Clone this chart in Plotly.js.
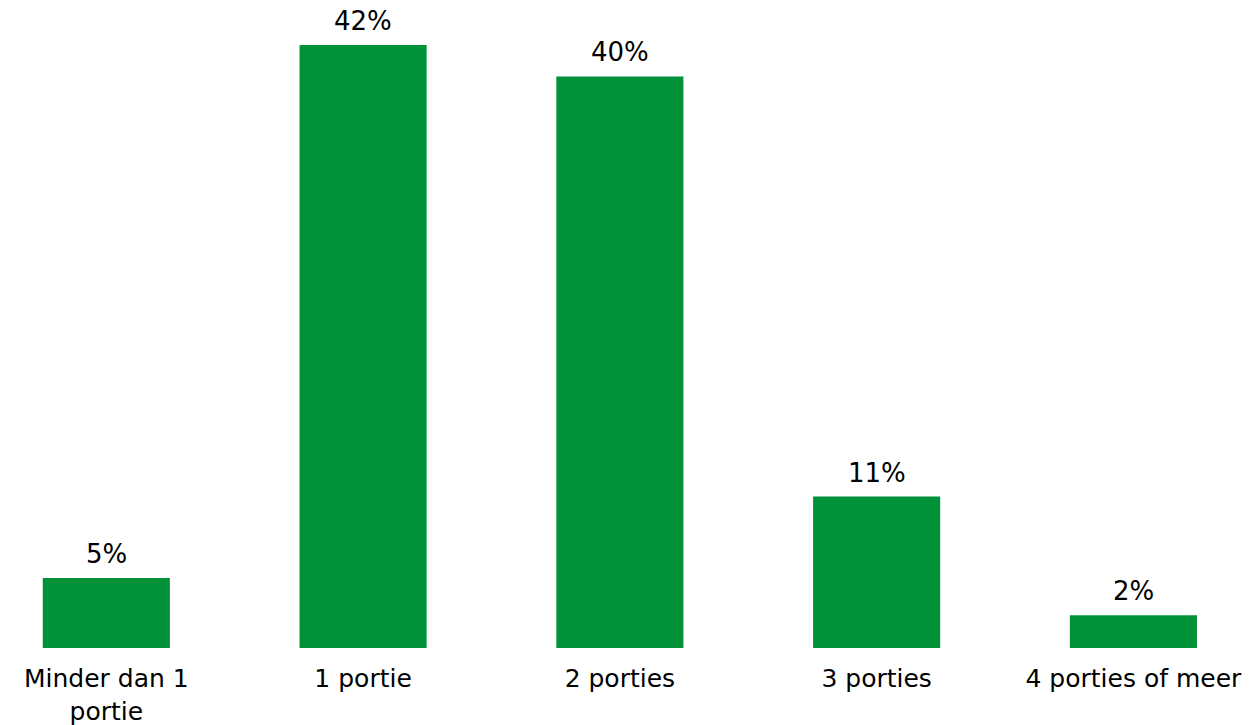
<!DOCTYPE html>
<html>
<head>
<meta charset="utf-8">
<script src="https://cdn.plot.ly/plotly-3.0.1.min.js"></script>
<style>html,body{margin:0;padding:0;background:#fff;}#chart{width:1260px;height:725px;}</style>
</head>
<body>
<div id="chart"></div>
<script>
const categories = ["Minder dan 1<br>portie", "1 portie", "2 porties", "3 porties", "4 porties of meer"];
const values = [4.9, 42.2, 40.0, 10.6, 2.3];
const valueLabels = ["5%", "42%", "40%", "11%", "2%"];

const green = "#009139";
const fontFam = "DejaVu Sans, Verdana, sans-serif";

const trace = {
  type: "bar",
  x: categories,
  y: values,
  marker: {color: green},
  width: 0.495,
  hoverinfo: "skip"
};

const annotations = categories.map((c, i) => ({
  x: c, y: values[i], text: valueLabels[i],
  xref: "x", yref: "y", showarrow: false,
  yanchor: "bottom", yshift: 7,
  font: {family: fontFam, size: 26, color: "#000"}
}));

const layout = {
  width: 1260, height: 725,
  margin: {l: 0, r: 0, t: 10, b: 77},
  paper_bgcolor: "#fff", plot_bgcolor: "#fff",
  showlegend: false,
  xaxis: {
    type: "category",
    range: [-0.414, 4.493],
    showgrid: false, zeroline: false, showline: false,
    ticks: "", ticklabelstandoff: 13,
    tickfont: {family: fontFam, size: 25, color: "#000"}
  },
  yaxis: {
    range: [0, 44.65],
    showgrid: false, zeroline: false, showline: false,
    showticklabels: false, ticks: ""
  },
  annotations: annotations
};

Plotly.newPlot("chart", [trace], layout, {displayModeBar: false, staticPlot: true});
</script>
</body>
</html>
